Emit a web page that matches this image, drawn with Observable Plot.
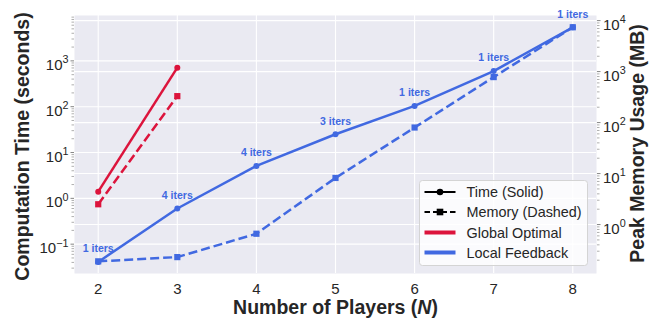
<!DOCTYPE html>
<html>
<head>
<meta charset="utf-8">
<script src="https://cdn.jsdelivr.net/npm/d3@7"></script>
<script src="https://cdn.jsdelivr.net/npm/@observablehq/plot@0.6"></script>
<style>
  body { margin: 0; background: #fff; }
  #chart { position: relative; width: 665px; height: 320px; }
  #chart svg { position: absolute; left: 0; top: 0; }
</style>
</head>
<body>
<div id="chart"></div>
<script>
// Number of players on the x axis
const players = [2, 3, 4, 5, 6, 7, 8];
const globalPlayers = [2, 3];

// Computation time (seconds), left axis
const globalTime = [1.4, 710];
const localTime = [0.041, 0.6, 5.1, 25, 104, 600, 5400];

// Peak memory usage (MB), right axis
const globalMemory = [2.5, 330];
const localMemory = [0.19, 0.23, 0.66, 8.2, 80, 780, 7400];

// Iterations needed by the local feedback method
const localIters = [1, 4, 4, 3, 1, 1, 1];

const methods = ["Global Optimal", "Local Feedback"];
const methodColors = ["#DC143C", "#4169E1"];
const legendLabels = ["Time (Solid)", "Memory (Dashed)", "Global Optimal", "Local Feedback"];

const xLabel = "Number of Players (N)";
const timeLabel = "Computation Time (seconds)";
const memoryLabel = "Peak Memory Usage (MB)";

// ---- layout ----
const W = 665, H = 320;
const font = '"Liberation Sans", Arial, "DejaVu Sans", sans-serif';
const ink = "#262626";
const timeDomain = [10 ** -1.64, 10 ** 3.99];
const memoryDomain = [10 ** -0.96, 10 ** 4.10];

const frameOpts = {
  width: W, height: H,
  marginLeft: 74, marginRight: 69, marginTop: 15, marginBottom: 47,
  style: { background: "transparent", fontFamily: font, color: ink, overflow: "visible" },
  color: { domain: methods, range: methodColors }
};
const xScale = { domain: [1.7, 8.3], axis: null };

function logTicks([lo, hi]) {
  const major = [], minor = [];
  for (let k = -4; k <= 6; k++) {
    for (let m = 1; m <= 9; m++) {
      const v = m * 10 ** k;
      if (v >= lo && v <= hi) (m === 1 ? major : minor).push(v);
    }
  }
  return { major, minor };
}
const timeTicks = logTicks(timeDomain);
const memoryTicks = logTicks(memoryDomain);
const powerFormat = v => `10^${Math.round(Math.log10(v))}`;

// ---- tidy rows ----
const timeRows = [
  ...globalPlayers.map((n, i) => ({ method: methods[0], n, value: globalTime[i] })),
  ...players.map((n, i) => ({ method: methods[1], n, value: localTime[i], iters: localIters[i] }))
];
const memoryRows = [
  ...globalPlayers.map((n, i) => ({ method: methods[0], n, value: globalMemory[i] })),
  ...players.map((n, i) => ({ method: methods[1], n, value: localMemory[i] }))
];

const titleStyle = { fontSize: 19.5, fontWeight: "bold", fill: ink, textAnchor: "middle", lineAnchor: "middle" };

// ---- layer 1: background, x grid, time grid and axes ----
const timeAxes = Plot.plot({
  ...frameOpts,
  x: xScale,
  y: { type: "log", domain: timeDomain, axis: null },
  marks: [
    Plot.frame({ fill: "#EAEAF2", stroke: "none" }),
    Plot.gridX(players, { stroke: "#fff", strokeOpacity: 1, strokeWidth: 1.1 }),
    Plot.gridY(timeTicks.major, { stroke: "#fff", strokeOpacity: 1, strokeWidth: 1.1 }),
    Plot.axisX(players, { tickSize: 0, tickPadding: 10, fontSize: 15, fill: ink, label: null }),
    Plot.axisY(timeTicks.minor, { anchor: "left", tickSize: 2.5, tickFormat: () => "", stroke: "#9a9a9a", strokeWidth: 0.8, label: null }),
    Plot.axisY(timeTicks.major, { anchor: "left", tickSize: 3.5, tickPadding: 2.5, tickFormat: powerFormat, stroke: "#777", strokeWidth: 0.9, fill: ink, fontSize: 15, label: null }),
    Plot.text([timeLabel], { text: d => d, frameAnchor: "left", dx: -52, dy: 2, rotate: -90, ...titleStyle }),
    Plot.text([xLabel], { text: d => d, frameAnchor: "bottom", dy: 34.7, ...titleStyle })
  ]
});

// ---- layer 2: memory grid and right axis ----
const memoryAxes = Plot.plot({
  ...frameOpts,
  x: xScale,
  y: { type: "log", domain: memoryDomain, axis: null },
  marks: [
    Plot.gridY(memoryTicks.major, { stroke: "#fff", strokeOpacity: 1, strokeWidth: 1.1 }),
    Plot.axisY(memoryTicks.minor, { anchor: "right", tickSize: 2.5, tickFormat: () => "", stroke: "#9a9a9a", strokeWidth: 0.8, label: null }),
    Plot.axisY(memoryTicks.major, { anchor: "right", tickSize: 3.5, tickPadding: 3, tickFormat: powerFormat, stroke: "#777", strokeWidth: 0.9, fill: ink, fontSize: 15, label: null }),
    Plot.text([memoryLabel], { text: d => d, frameAnchor: "right", dx: 41.6, dy: -1, rotate: -90, ...titleStyle })
  ]
});

// ---- layer 3: computation time (solid lines, circles, iteration labels) ----
const timeLines = Plot.plot({
  ...frameOpts,
  x: xScale,
  y: { type: "log", domain: timeDomain, axis: null },
  marks: [
    Plot.line(timeRows, { x: "n", y: "value", z: "method", stroke: "method", strokeWidth: 2.5, strokeLinecap: "butt" }),
    Plot.dot(timeRows, { x: "n", y: "value", fill: "method", r: 3, stroke: "none" }),
    Plot.text(timeRows.filter(d => d.iters != null), {
      x: "n", y: "value", text: d => `${d.iters} iters`, dy: -13,
      fill: "#4169E1", fontWeight: "bold", fontSize: 10.5
    })
  ]
});

// ---- layer 4: peak memory (dashed lines, squares) ----
const memoryLines = Plot.plot({
  ...frameOpts,
  x: xScale,
  y: { type: "log", domain: memoryDomain, axis: null },
  marks: [
    Plot.line(memoryRows, { x: "n", y: "value", z: "method", stroke: "method", strokeWidth: 2.5, strokeDasharray: "9,4", strokeLinecap: "butt" }),
    Plot.dot(memoryRows, { x: "n", y: "value", fill: "method", symbol: "square", r: 3.5, stroke: "none" })
  ]
});

// Power-of-ten tick labels with raised exponents; italic N in the x label.
function typeset(svg) {
  d3.select(svg).selectAll("text").each(function () {
    const t = d3.select(this);
    const s = t.text();
    const m = s.match(/^10\^(-?\d+)$/);
    if (m) {
      t.text("");
      t.append("tspan").attr("dy", "4.3").text("10");
      t.append("tspan").attr("dy", "-6.7").attr("font-size", "0.72em")
        .text(m[1].replace("-", "\u2212"));
    } else if (s === xLabel) {
      t.text("");
      t.append("tspan").text("Number of Players (");
      t.append("tspan").attr("font-style", "italic").text("N");
      t.append("tspan").text(")");
    }
  });
}
typeset(timeAxes);
typeset(memoryAxes);

// ---- legend ----
function buildLegend() {
  const svg = d3.create("svg").attr("width", W).attr("height", H)
    .style("font-family", font).style("pointer-events", "none");
  const g = svg.append("g").attr("transform", "translate(419.5,180.5)");
  g.append("rect").attr("width", 168).attr("height", 85).attr("rx", 3)
    .attr("fill", "#fff").attr("fill-opacity", 0.8).attr("stroke", "#d4d4d4").attr("stroke-width", 1);
  const rowY = [11.5, 31.5, 52, 72];
  const x0 = 5, x1 = 36, xm = 20.5;
  // Time (solid)
  g.append("line").attr("x1", x0).attr("x2", x1).attr("y1", rowY[0]).attr("y2", rowY[0]).attr("stroke", "#000").attr("stroke-width", 2);
  g.append("circle").attr("cx", xm).attr("cy", rowY[0]).attr("r", 3.3).attr("fill", "#000");
  // Memory (dashed)
  g.append("line").attr("x1", x0).attr("x2", x1).attr("y1", rowY[1]).attr("y2", rowY[1]).attr("stroke", "#000").attr("stroke-width", 2).attr("stroke-dasharray", "5.5,3");
  g.append("rect").attr("x", xm - 3.3).attr("y", rowY[1] - 3.3).attr("width", 6.6).attr("height", 6.6).attr("fill", "#000");
  // Methods
  methods.forEach((m, i) => {
    g.append("line").attr("x1", x0).attr("x2", x1).attr("y1", rowY[2 + i]).attr("y2", rowY[2 + i])
      .attr("stroke", methodColors[i]).attr("stroke-width", 4);
  });
  legendLabels.forEach((label, i) => {
    g.append("text").attr("x", 47).attr("y", rowY[i]).attr("dy", "0.35em")
      .attr("font-size", 14.4).attr("fill", ink).text(label);
  });
  return svg.node();
}

const chart = document.getElementById("chart");
chart.append(timeAxes, memoryAxes, timeLines, memoryLines, buildLegend());
</script>
</body>
</html>
